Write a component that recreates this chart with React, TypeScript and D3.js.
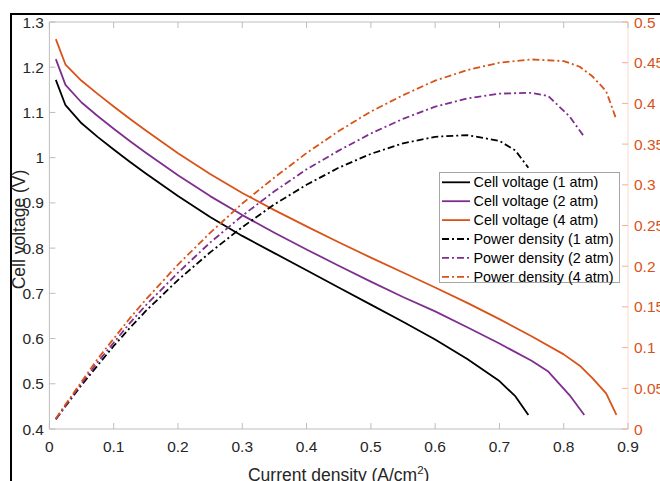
import React from "react";
import * as d3 from "d3";

// Polarisation data for a fuel cell at three operating pressures
const current1 = [0.01, 0.025, 0.05, 0.075, 0.1, 0.125, 0.15, 0.2, 0.25, 0.3, 0.35, 0.4, 0.45, 0.5, 0.55, 0.6, 0.65, 0.7, 0.725, 0.745];
const voltage1 = [1.172, 1.116, 1.076, 1.046, 1.018, 0.991, 0.965, 0.915, 0.869, 0.827, 0.789, 0.751, 0.713, 0.675, 0.637, 0.598, 0.555, 0.506, 0.472, 0.431];
const power1 = [0.012, 0.028, 0.054, 0.078, 0.102, 0.124, 0.145, 0.183, 0.217, 0.248, 0.276, 0.3, 0.321, 0.338, 0.351, 0.359, 0.361, 0.354, 0.342, 0.321];

const current2 = [0.01, 0.025, 0.05, 0.075, 0.1, 0.125, 0.15, 0.2, 0.25, 0.3, 0.35, 0.4, 0.45, 0.5, 0.55, 0.6, 0.65, 0.7, 0.75, 0.776, 0.809, 0.832];
const voltage2 = [1.218, 1.161, 1.122, 1.092, 1.064, 1.037, 1.011, 0.961, 0.915, 0.873, 0.834, 0.797, 0.761, 0.726, 0.692, 0.66, 0.625, 0.589, 0.551, 0.527, 0.475, 0.431];
const power2 = [0.012, 0.029, 0.056, 0.082, 0.106, 0.13, 0.152, 0.192, 0.229, 0.262, 0.292, 0.319, 0.342, 0.363, 0.381, 0.396, 0.406, 0.412, 0.413, 0.409, 0.384, 0.359];

const current4 = [0.01, 0.025, 0.05, 0.075, 0.1, 0.125, 0.15, 0.2, 0.25, 0.3, 0.35, 0.4, 0.45, 0.5, 0.55, 0.6, 0.65, 0.7, 0.75, 0.8, 0.825, 0.845, 0.866, 0.882];
const voltage4 = [1.262, 1.206, 1.17, 1.141, 1.113, 1.086, 1.06, 1.01, 0.964, 0.922, 0.884, 0.848, 0.813, 0.779, 0.746, 0.713, 0.679, 0.643, 0.605, 0.565, 0.54, 0.512, 0.479, 0.431];
const power4 = [0.013, 0.03, 0.058, 0.086, 0.111, 0.136, 0.159, 0.202, 0.241, 0.277, 0.309, 0.339, 0.366, 0.39, 0.41, 0.428, 0.441, 0.45, 0.454, 0.452, 0.445, 0.433, 0.415, 0.38];

const xTicks = [0, 0.1, 0.2, 0.3, 0.4, 0.5, 0.6, 0.7, 0.8, 0.9];
const leftTicks = [0.4, 0.5, 0.6, 0.7, 0.8, 0.9, 1, 1.1, 1.2, 1.3];
const rightTicks = [0, 0.05, 0.1, 0.15, 0.2, 0.25, 0.3, 0.35, 0.4, 0.45, 0.5];

const legendLabels = [
  "Cell voltage (1 atm)",
  "Cell voltage (2 atm)",
  "Cell voltage (4 atm)",
  "Power density (1 atm)",
  "Power density (2 atm)",
  "Power density (4 atm)",
];

const BLACK = "#000000";
const PURPLE = "#7E2F8E";
const ORANGE = "#D95319";
const DASHDOT = "7 3 2 3";
const FONT = "'Liberation Sans', Arial, Helvetica, sans-serif";

const W = 660;
const H = 481;
const plot = { left: 49.4, right: 628, top: 22, bottom: 429 };

export default function App() {
  const x = d3.scaleLinear().domain([0, 0.9]).range([plot.left, plot.right]);
  const yL = d3.scaleLinear().domain([0.4, 1.3]).range([plot.bottom, plot.top]);
  const yR = d3.scaleLinear().domain([0, 0.5]).range([plot.bottom, plot.top]);

  const lineL = d3.line<[number, number]>().x((d) => x(d[0])).y((d) => yL(d[1]));
  const lineR = d3.line<[number, number]>().x((d) => x(d[0])).y((d) => yR(d[1]));
  const zip = (a: number[], b: number[]) => a.map((v, i) => [v, b[i]] as [number, number]);

  const series = [
    { d: lineL(zip(current1, voltage1)), color: BLACK, dash: undefined },
    { d: lineL(zip(current2, voltage2)), color: PURPLE, dash: undefined },
    { d: lineL(zip(current4, voltage4)), color: ORANGE, dash: undefined },
    { d: lineR(zip(current1, power1)), color: BLACK, dash: DASHDOT },
    { d: lineR(zip(current2, power2)), color: PURPLE, dash: DASHDOT },
    { d: lineR(zip(current4, power4)), color: ORANGE, dash: DASHDOT },
  ];

  const fmt = (v: number) => String(+v.toFixed(2));
  const gray = "#bdbdbd";
  const tickLen = 6;

  const legend = { x: 439.5, y: 172.5, w: 180, h: 110, rowH: 18.9, firstRow: 182.3 };

  return (
    <svg
      width={W}
      height={H}
      style={{ position: "absolute", left: 0, top: 0, display: "block", background: "#fff" }}
      fontFamily={FONT}
    >
      {/* outer frame */}
      <line x1={10} y1={14} x2={W} y2={14} stroke="#000" strokeWidth={2} />
      <line x1={11} y1={13} x2={11} y2={H} stroke="#000" strokeWidth={2} />

      {/* box */}
      <line x1={plot.left} y1={plot.top} x2={plot.right} y2={plot.top} stroke={gray} strokeWidth={1} />
      <line x1={plot.left} y1={plot.bottom} x2={plot.right} y2={plot.bottom} stroke={gray} strokeWidth={1} />
      <line x1={plot.left} y1={plot.top} x2={plot.left} y2={plot.bottom} stroke={gray} strokeWidth={1} />
      <line x1={plot.right} y1={plot.top} x2={plot.right} y2={plot.bottom} stroke="#f8d9cb" strokeWidth={1} />

      {/* x ticks */}
      {xTicks.map((t) => (
        <g key={"x" + t}>
          <line x1={x(t)} x2={x(t)} y1={plot.bottom} y2={plot.bottom - tickLen} stroke={gray} />
          <line x1={x(t)} x2={x(t)} y1={plot.top} y2={plot.top + tickLen} stroke={gray} />
          <text x={x(t)} y={452} fontSize={15.5} fill="#262626" textAnchor="middle">
            {fmt(t)}
          </text>
        </g>
      ))}

      {/* left ticks */}
      {leftTicks.map((t) => (
        <g key={"l" + t}>
          <line x1={plot.left} x2={plot.left + tickLen} y1={yL(t)} y2={yL(t)} stroke={gray} />
          <text x={44} y={yL(t)} dy="0.36em" fontSize={15.5} fill="#262626" textAnchor="end">
            {fmt(t)}
          </text>
        </g>
      ))}

      {/* right ticks */}
      {rightTicks.map((t) => (
        <g key={"r" + t}>
          <line x1={plot.right - tickLen} x2={plot.right} y1={yR(t)} y2={yR(t)} stroke="#f2b196" />
          <text x={634} y={yR(t)} dy="0.36em" fontSize={15.5} fill={ORANGE} textAnchor="start">
            {fmt(t)}
          </text>
        </g>
      ))}

      {/* series */}
      {series.map((s, i) => (
        <path
          key={i}
          d={s.d || ""}
          fill="none"
          stroke={s.color}
          strokeWidth={1.8}
          strokeDasharray={s.dash}
          strokeLinejoin="round"
        />
      ))}

      {/* axis titles */}
      <text x={338.7} y={481} fontSize={17.5} fill="#262626" textAnchor="middle">
        Current density (A/cm
        <tspan fontSize={11.5} dy={-7}>
          2
        </tspan>
        <tspan dy={7}>)</tspan>
      </text>
      <text
        transform={`translate(25, ${(plot.top + plot.bottom) / 2 + 4}) rotate(-90)`}
        fontSize={17.5}
        fill="#262626"
        textAnchor="middle"
      >
        Cell voltage (V)
      </text>

      {/* legend */}
      <rect x={legend.x} y={legend.y} width={legend.w} height={legend.h} fill="#fff" stroke="#a6a6a6" strokeWidth={1} />
      {legendLabels.map((label, i) => {
        const cy = legend.firstRow + i * legend.rowH;
        const s = series[i];
        return (
          <g key={label}>
            <line x1={442} x2={470} y1={cy} y2={cy} stroke={s.color} strokeWidth={1.8} strokeDasharray={s.dash} />
            <text x={473.5} y={cy} dy="0.36em" fontSize={14.4} fill="#000">
              {label}
            </text>
          </g>
        );
      })}
    </svg>
  );
}
